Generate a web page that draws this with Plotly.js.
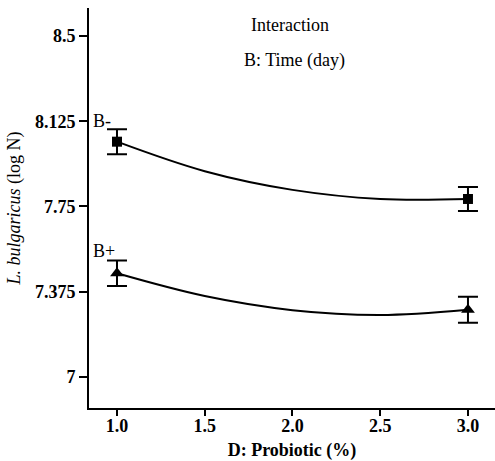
<!DOCTYPE html>
<html>
<head>
<meta charset="utf-8">
<script src="https://cdn.plot.ly/plotly-3.0.1.min.js"></script>
<style>html,body{margin:0;padding:0;background:#fff;}#chart{width:495px;height:461px;}</style>
</head>
<body>
<div id="chart"></div>
<script>
// Probiotic levels for the fitted curves
var curveX = [1.0, 1.5, 2.0, 2.5, 3.0];
var curveBminus = [8.035, 7.905, 7.823, 7.783, 7.783];
var curveBplus = [7.456, 7.356, 7.294, 7.273, 7.296];
// Design points with error bars
var pointX = [1.0, 3.0];
var pointBminus = [8.035, 7.783];
var errBminus = [0.055, 0.053];
var pointBplus = [7.456, 7.296];
var errBplus = [0.056, 0.057];
// Tick labels
var xTicks = [1.0, 1.5, 2.0, 2.5, 3.0];
var xTickText = ["1.0", "1.5", "2.0", "2.5", "3.0"];
var yTicks = [7, 7.375, 7.75, 8.125, 8.5];
var yTickText = ["7", "7.375", "7.75", "8.125", "8.5"];

var serif = "'Liberation Serif', 'Times New Roman', 'DejaVu Serif', serif";
var xRange = [0.8405, 3.154];

var traces = [
  {x: curveX, y: curveBminus, type: "scatter", mode: "lines", xaxis: "x2", yaxis: "y",
   line: {color: "#000", width: 2, shape: "spline"}, hoverinfo: "skip"},
  {x: curveX, y: curveBplus, type: "scatter", mode: "lines", xaxis: "x2", yaxis: "y",
   line: {color: "#000", width: 2, shape: "spline"}, hoverinfo: "skip"},
  {x: pointX, y: pointBminus, type: "scatter", mode: "markers",
   marker: {symbol: "square", size: 10, color: "#000"},
   error_y: {type: "data", array: errBminus, visible: true, color: "#000", thickness: 2, width: 10}},
  {x: pointX, y: pointBplus, type: "scatter", mode: "markers",
   marker: {symbol: "triangle-up", size: 12, color: "#000"},
   error_y: {type: "data", array: errBplus, visible: true, color: "#000", thickness: 2, width: 10}}
];

var layout = {
  width: 495, height: 461,
  margin: {l: 89, r: 0, t: 8, b: 53},
  paper_bgcolor: "#fff", plot_bgcolor: "#fff",
  showlegend: false,
  font: {family: serif, color: "#000"},
  xaxis: {
    range: xRange, tickvals: xTicks, ticktext: xTickText,
    showgrid: false, zeroline: false, showline: true, linewidth: 2, linecolor: "#000",
    ticks: "", ticklen: 0,
    tickfont: {family: serif, size: 18, weight: "bold", color: "#000"},
    title: {text: "<b>D: Probiotic (%)</b>", font: {family: serif, size: 18, color: "#000"}, standoff: 10},
    automargin: false
  },
  xaxis2: {
    overlaying: "x", anchor: "y", side: "bottom",
    range: xRange, tickvals: xTicks, showticklabels: false,
    showgrid: false, zeroline: false, showline: false,
    ticks: "outside", ticklen: 7, tickwidth: 2, tickcolor: "#000",
    automargin: false
  },
  yaxis: {
    range: [6.8636, 8.623], tickvals: yTicks, ticktext: yTickText,
    showgrid: false, zeroline: false, showline: true, linewidth: 2, linecolor: "#000",
    ticks: "outside", ticklen: 8, tickwidth: 2, tickcolor: "#000",
    tickfont: {family: serif, size: 18, weight: "bold", color: "#000"},
    title: {text: "<i>L. bulgaricus</i> (log N)", font: {family: serif, size: 18, color: "#000"}, standoff: 10},
    automargin: false
  },
  annotations: [
    {text: "Interaction", xref: "paper", yref: "paper", x: 0.495, y: 0.9575,
     xanchor: "center", yanchor: "middle", showarrow: false, font: {family: serif, size: 18, color: "#000"}},
    {text: "B: Time (day)", xref: "paper", yref: "paper", x: 0.507, y: 0.87,
     xanchor: "center", yanchor: "middle", showarrow: false, font: {family: serif, size: 18, color: "#000"}},
    {text: "B-", xref: "paper", yref: "paper", x: 0.005, y: 0.7175,
     xanchor: "left", yanchor: "middle", showarrow: false, font: {family: serif, size: 18, color: "#000"}},
    {text: "B+", xref: "paper", yref: "paper", x: 0.005, y: 0.3925,
     xanchor: "left", yanchor: "middle", showarrow: false, font: {family: serif, size: 18, color: "#000"}}
  ]
};

Plotly.newPlot("chart", traces, layout, {displayModeBar: false, staticPlot: true});
</script>
</body>
</html>
